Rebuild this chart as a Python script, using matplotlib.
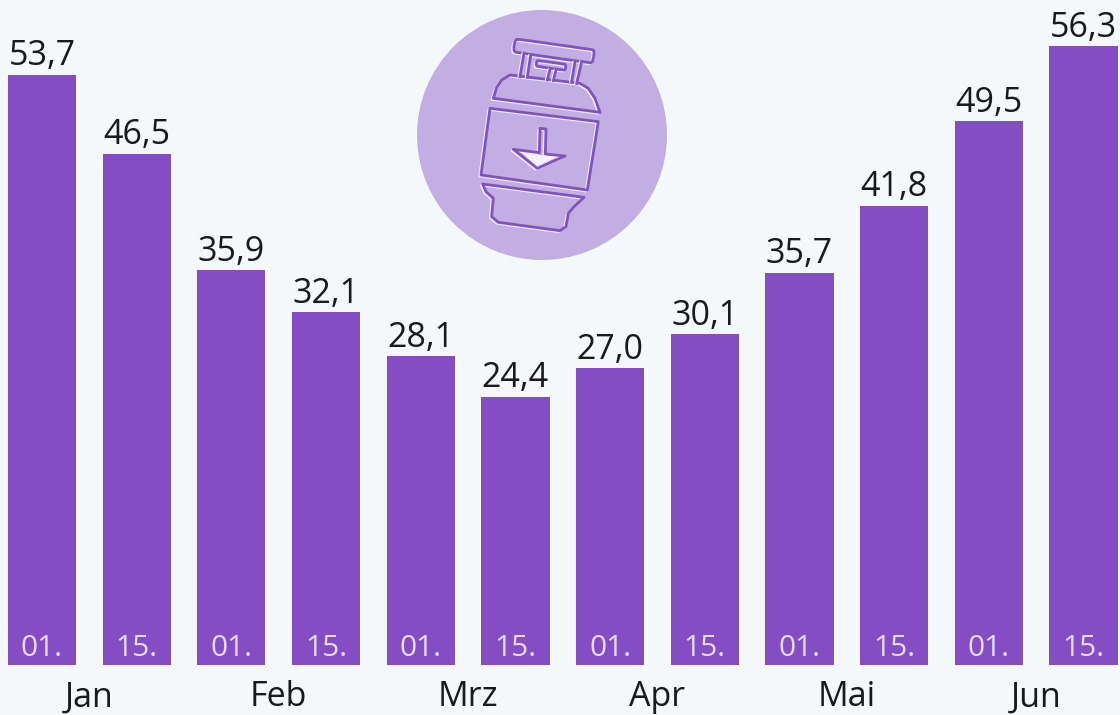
import matplotlib
matplotlib.use('Agg')
import matplotlib.pyplot as plt
from matplotlib.patches import Circle, Polygon
import numpy as np

plt.rcParams['font.family'] = ['Open Sans', 'DejaVu Sans']

values = [53.7, 46.5, 35.9, 32.1, 28.1, 24.4, 27.0, 30.1, 35.7, 41.8, 49.5, 56.3]
days = ['01.', '15.'] * 6
months = ['Jan', 'Feb', 'Mrz', 'Apr', 'Mai', 'Jun']

BG = '#f4f8fb'
BAR = '#844dc4'
ICON_BG = '#c3aee4'
ICON_LINE = '#7f55bd'
ICON_LIGHT = '#efe8fa'

fig = plt.figure(figsize=(11.2, 7.15), dpi=100, facecolor=BG)
ax = fig.add_axes([0, 50 / 715, 1, 665 / 715])
ax.set_facecolor(BG)

x = np.arange(len(values))
bars = ax.bar(x, values, width=0.72, color=BAR)
ax.bar_label(bars, labels=[f'{v:.1f}'.replace('.', ',') for v in values],
             fontsize=24.5, color='#1a1a1a', padding=1, clip_on=False)

for i, d in zip(x, days):
    ax.text(i, 0.8, d, ha='center', va='baseline', fontsize=21.5, color='#e6daf4')

ax.set_xlim(-0.4436, 11.385)
ax.set_ylim(0, 60.5)
ax.set_yticks([])
ax.set_xticks(x[::2] + 0.5)
ax.set_xticklabels(months, fontsize=24.5, color='#1a1a1a')
ax.tick_params(axis='x', length=0, pad=11)
for s in ax.spines.values():
    s.set_visible(False)

# icon, outlines traced in pixels of the picture
ov = fig.add_axes([0, 0, 1, 1])
ov.set_xlim(0, 1120)
ov.set_ylim(715, 0)
ov.axis('off')
ov.patch.set_alpha(0)
ov.add_patch(Circle((542, 135), 125, color=ICON_BG, lw=0))


def px(points):
    # zoom crop coords to picture coords
    return [(400 + a / 3, b / 3) for a, b in points]


def rounded(points, n=3):
    # corner cutting so the outline gets round corners
    p = np.array(points, dtype=float)
    for _ in range(n):
        nxt = np.roll(p, -1, axis=0)
        p = np.column_stack([0.75 * p + 0.25 * nxt, 0.25 * p + 0.75 * nxt]).reshape(-1, 2)
    return [tuple(q) for q in p]


outlines = [
    rounded([(360, 118), (345, 118), (340, 155), (355, 158), (565, 188), (578, 188),
             (584, 150), (570, 148)], 2),
    rounded([(418, 182), (410, 182), (408, 198), (418, 200), (488, 210), (496, 210),
             (498, 194), (490, 192)], 2),
    [(280, 295), (290, 262), (305, 240), (330, 225), (540, 250), (565, 265), (585, 295), (600, 337)],
    [(270, 325), (595, 365), (562, 570), (243, 525)],
    [(248, 552), (552, 592), (520, 622), (505, 640), (498, 680), (480, 692), (295, 667), (275, 650), (280, 595), (258, 575)],
    [(340, 448), (418, 458), (420, 385), (438, 387), (436, 462), (495, 468), (412, 505)],
]
strokes = [
    [(372, 160), (360, 230)],
    [(392, 165), (382, 232)],
    [(545, 185), (530, 250)],
    [(525, 185), (515, 245)],
    [(450, 208), (442, 240)],
    [(468, 210), (460, 242)],
]

for pts in outlines:
    light = [(a - 5, b + 4) for a, b in pts]
    ov.add_patch(Polygon(px(light), closed=True, fill=False, ec=ICON_LIGHT, lw=1.5, joinstyle='round'))
    ov.add_patch(Polygon(px(pts), closed=True, fill=False, ec=ICON_LINE, lw=2, joinstyle='round'))
for pts in strokes:
    p = np.array(px(pts))
    ov.plot(p[:, 0] - 1.5, p[:, 1], color=ICON_LIGHT, lw=1.5)
    ov.plot(p[:, 0], p[:, 1], color=ICON_LINE, lw=2)
ov.add_patch(Polygon(px([(365, 458), (470, 472), (412, 500)]), closed=True, color='#f5f0fc', lw=0))

fig.savefig('out.png', dpi=100, facecolor=BG)
